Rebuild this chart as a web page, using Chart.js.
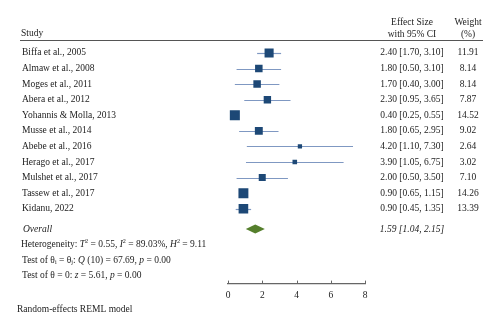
<!DOCTYPE html>
<html>
<head>
<meta charset="utf-8">
<script src="https://cdn.jsdelivr.net/npm/chart.js@4.4.1/dist/chart.umd.min.js"></script>
<style>
  html, body { margin: 0; padding: 0; background: #fff; }
  #wrap { width: 500px; height: 330px; }
</style>
</head>
<body>
<div id="wrap"><canvas id="forest" width="500" height="330"></canvas></div>
<script>
// study data
const studies = ["Biffa et al., 2005", "Almaw et al., 2008", "Moges et al., 2011", "Abera et al., 2012",
    "Yohannis & Molla, 2013", "Musse et al., 2014", "Abebe et al., 2016", "Herago et al., 2017",
    "Mulshet et al., 2017", "Tassew et al., 2017", "Kidanu, 2022"];
const effects = [2.40, 1.80, 1.70, 2.30, 0.40, 1.80, 4.20, 3.90, 2.00, 0.90, 0.90];
const lower = [1.70, 0.50, 0.40, 0.95, 0.25, 0.65, 1.10, 1.05, 0.50, 0.65, 0.45];
const upper = [3.10, 3.10, 3.00, 3.65, 0.55, 2.95, 7.30, 6.75, 3.50, 1.15, 1.35];
const weights = [11.91, 8.14, 8.14, 7.87, 14.52, 9.02, 2.64, 3.02, 7.10, 14.26, 13.39];
const overall = [1.59, 1.04, 2.15]; // estimate, lower, upper
const xTicks = [0, 2, 4, 6, 8];

const SERIF = '"Liberation Serif", "DejaVu Serif", serif';
const overallRow = studies.length + 0.3;

// draws text made of runs: {t, it (italic), sup, sub}
function richText(ctx, runs, x, y, size) {
    let cx = x;
    runs.forEach(r => {
        const s = (r.sup || r.sub) ? size * 0.65 : size;
        const dy = r.sup ? -size * 0.38 : (r.sub ? size * 0.22 : 0);
        ctx.font = (r.it ? 'italic ' : '') + s + 'px ' + SERIF;
        ctx.fillText(r.t, cx, y + dy);
        cx += ctx.measureText(r.t).width;
    });
}

const ciPlugin = {
    id: 'ciLines',
    beforeDatasetsDraw(chart) {
        const { ctx, scales: { x, y } } = chart;
        ctx.save();
        ctx.strokeStyle = '#7f98c2';
        ctx.lineWidth = 1.2;
        studies.forEach((s, i) => {
            const py = Math.round(y.getPixelForValue(i)) + 0.5;
            ctx.beginPath();
            ctx.moveTo(x.getPixelForValue(lower[i]), py);
            ctx.lineTo(x.getPixelForValue(upper[i]), py);
            ctx.stroke();
        });
        // overall diamond
        const oy = y.getPixelForValue(overallRow);
        ctx.fillStyle = '#557f2c';
        ctx.beginPath();
        ctx.moveTo(x.getPixelForValue(overall[1]), oy);
        ctx.lineTo(x.getPixelForValue(overall[0]), oy - 4.5);
        ctx.lineTo(x.getPixelForValue(overall[2]), oy);
        ctx.lineTo(x.getPixelForValue(overall[0]), oy + 4.5);
        ctx.closePath();
        ctx.fill();

        // upward tick marks on the x axis
        const by = chart.chartArea.bottom;
        ctx.strokeStyle = '#666';
        ctx.lineWidth = 1;
        xTicks.forEach(v => {
            const px = Math.round(x.getPixelForValue(v)) + 0.5;
            ctx.beginPath();
            ctx.moveTo(px, by - 3);
            ctx.lineTo(px, by);
            ctx.stroke();
        });
        ctx.restore();
    }
};

const textPlugin = {
    id: 'forestText',
    afterDraw(chart) {
        const { ctx, scales: { y } } = chart;
        const size = 9.5;
        const effX = 412, wX = 468;
        ctx.save();
        ctx.fillStyle = '#222';
        ctx.textBaseline = 'middle';

        // header
        ctx.font = size + 'px ' + SERIF;
        ctx.textAlign = 'left';
        ctx.fillText('Study', 21, 33);
        ctx.textAlign = 'center';
        ctx.fillText('Effect Size', effX, 22);
        ctx.fillText('with 95% CI', effX, 34);
        ctx.fillText('Weight', wX, 22);
        ctx.fillText('(%)', wX, 34);

        ctx.strokeStyle = '#555';
        ctx.lineWidth = 1.2;
        ctx.beginPath();
        ctx.moveTo(20, 40.5);
        ctx.lineTo(483, 40.5);
        ctx.stroke();

        // rows
        studies.forEach((s, i) => {
            const py = y.getPixelForValue(i);
            ctx.textAlign = 'left';
            ctx.fillText(s, 22, py);
            ctx.textAlign = 'center';
            ctx.fillText(effects[i].toFixed(2) + ' [' + lower[i].toFixed(2) + ', ' + upper[i].toFixed(2) + ']', effX, py);
            ctx.fillText(weights[i].toFixed(2), wX, py);
        });

        const oy = y.getPixelForValue(overallRow);
        ctx.font = 'italic ' + size + 'px ' + SERIF;
        ctx.textAlign = 'left';
        ctx.fillText('Overall', 23, oy);
        ctx.textAlign = 'center';
        ctx.fillText(overall[0].toFixed(2) + ' [' + overall[1].toFixed(2) + ', ' + overall[2].toFixed(2) + ']', effX, oy);

        // statistics
        ctx.textAlign = 'left';
        richText(ctx, [{ t: 'Heterogeneity: ' }, { t: 'T', it: 1 }, { t: '2', sup: 1 }, { t: ' = 0.55, ' },
            { t: 'I', it: 1 }, { t: '2', sup: 1 }, { t: ' = 89.03%, ' }, { t: 'H', it: 1 }, { t: '2', sup: 1 },
            { t: ' = 9.11' }], 21, oy + 15.5, size);
        richText(ctx, [{ t: 'Test of θ' }, { t: 'i', sub: 1 }, { t: ' = θ' }, { t: 'j', sub: 1 }, { t: ': ' },
            { t: 'Q', it: 1 }, { t: ' (10) = 67.69, ' }, { t: 'p', it: 1 }, { t: ' = 0.00' }], 22, oy + 31, size);
        richText(ctx, [{ t: 'Test of θ = 0: ' }, { t: 'z', it: 1 }, { t: ' = 5.61, ' }, { t: 'p', it: 1 },
            { t: ' = 0.00' }], 22, oy + 46.5, size);

        ctx.font = size + 'px ' + SERIF;
        ctx.fillText('Random-effects REML model', 17, 309);
        ctx.restore();
    }
};

new Chart(document.getElementById('forest'), {
    type: 'scatter',
    data: {
        datasets: [{
            data: studies.map((s, i) => ({ x: effects[i], y: i })),
            pointStyle: 'rect',
            pointRadius: weights.map(w => 1.86 * Math.sqrt(w)),
            pointHoverRadius: weights.map(w => 1.86 * Math.sqrt(w)),
            backgroundColor: '#1d4876',
            borderColor: '#1d4876',
            borderWidth: 0
        }]
    },
    options: {
        responsive: false,
        animation: false,
        events: [],
        layout: { padding: { left: 228, right: 135, top: 40, bottom: 23 } },
        plugins: { legend: { display: false }, tooltip: { enabled: false } },
        scales: {
            x: {
                type: 'linear',
                min: 0,
                max: 8,
                afterBuildTicks: axis => { axis.ticks = xTicks.map(v => ({ value: v })); },
                grid: { drawOnChartArea: false, drawTicks: false },
                border: { color: '#666', width: 1.2 },
                ticks: { color: '#222', padding: 6, font: { family: SERIF, size: 9.5 } }
            },
            y: {
                display: false,
                reverse: true,
                min: -0.83,
                max: 14.8
            }
        }
    },
    plugins: [ciPlugin, textPlugin]
});
</script>
</body>
</html>
